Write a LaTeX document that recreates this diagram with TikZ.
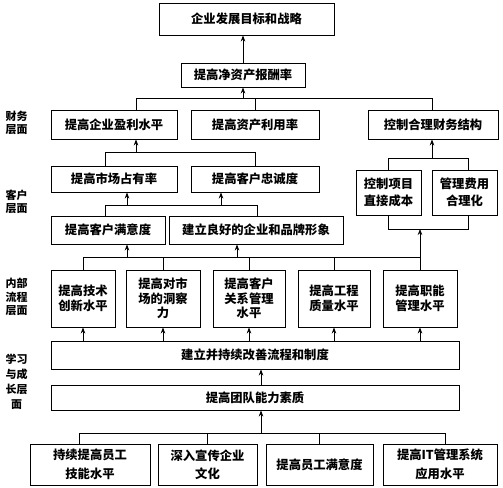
\documentclass[tikz,border=0pt]{standalone}
\usepackage{fontspec}
\newfontfamily\cjk{Noto Sans CJK SC}
\usetikzlibrary{positioning, arrows.meta}

\begin{document}
\begin{tikzpicture}[
      x=1pt, y=-1pt,
      box/.style={draw, line width=0.9pt, align=center, inner sep=0pt, font=\cjk\bfseries\fontsize{12.3}{14.5}\selectfont},
      dims/.style 2 args={minimum width=#1pt, minimum height=#2pt},
      level/.style={align=center, inner sep=0pt, font=\cjk\bfseries\fontsize{11}{13.5}\selectfont},
      link/.style={line width=0.7pt},
      flow/.style={-{Stealth[length=6pt, width=4.5pt]}, line width=0.7pt}
    ]
    \useasboundingbox (0,0) rectangle (503,487);

    % goal and finance
    \node[box, dims={175}{32}] (goal)      at (246.5,19)  {企业发展目标和战略};
    \node[box, dims={124}{24}] (roe)       at (243,75)    {提高净资产报酬率};
    \node[box, dims={126}{29}] (profit)    at (114,124.5) {提高企业盈利水平};
    \node[box, dims={128}{29}] (assets)    at (255,124.5) {提高资产利用率};
    \node[box, dims={130}{29}] (structure) at (433,124.5) {控制合理财务结构};

    % customer
    \node[box, dims={126}{26}] (share)      at (114,179)   {提高市场占有率};
    \node[box, dims={128}{26}] (loyalty)    at (255,179)   {提高客户忠诚度};
    \node[box, dims={65}{45}, font=\cjk\bfseries\fontsize{12.3}{16.5}\selectfont] (directcost) at (388.5,192.5) {控制项目\\直接成本};
    \node[box, dims={65}{45}, font=\cjk\bfseries\fontsize{12.3}{16.5}\selectfont] (admincost)  at (464.5,192.5) {管理费用\\合理化};
    \node[box, dims={114}{28}] (satisfaction) at (108,230) {提高客户满意度};
    \node[box, dims={174}{28}] (brand)        at (256,230) {建立良好的企业和品牌形象};

    % internal process
    \node[box, dims={64}{57}] (innovation) at (83,298.5)  {提高技术\\创新水平};
    \node[box, dims={74}{57}] (insight)    at (163,298.5) {提高对市\\场的洞察\\力};
    \node[box, dims={72}{57}] (crm)        at (249,298.5) {提高客户\\关系管理\\水平};
    \node[box, dims={72}{57}] (quality)    at (334,298.5) {提高工程\\质量水平};
    \node[box, dims={74}{57}] (functions)  at (420,298.5) {提高职能\\管理水平};

    % learning and growth
    \node[box, dims={408}{28}] (process) at (255,355)   {建立并持续改善流程和制度};
    \node[box, dims={408}{25}] (team)    at (255,397.5) {提高团队能力素质};
    \node[box, dims={120}{41}, font=\cjk\bfseries\fontsize{12.3}{19}\selectfont] (skills)   at (90,464.5)    {持续提高员工\\技能水平};
    \node[box, dims={99}{41},  font=\cjk\bfseries\fontsize{12.3}{18}\selectfont] (culture)  at (207.5,464.5) {深入宣传企业\\文化};
    \node[box, dims={107}{41}] (staffsat) at (319.5,464.5) {提高员工满意度};
    \node[box, dims={114}{41}, font=\cjk\bfseries\fontsize{12.3}{19}\selectfont] (itsys)    at (440,464.5)   {提高IT管理系统\\应用水平};

    % level labels
    \node[level] (finance)  at (16.5,123) {财务\\层面};
    \node[level] (customer) at (16.5,202) {客户\\层面};
    \node[level] (internal) at (16.5,297) {内部\\流程\\层面};
    \node[level, font=\cjk\bfseries\fontsize{11}{15}\selectfont] (learning) at (16.5,382) {学习\\与成\\长层\\面};

    % bus points
    \coordinate (j1) at (136,98);  \coordinate (j2) at (432,98);
    \coordinate (k1) at (105,152); \coordinate (k2) at (255,152);
    \coordinate (m1) at (388,158); \coordinate (m2) at (468,158);
    \coordinate (n1) at (105,205); \coordinate (n2) at (257,205);
    \coordinate (n3) at (127,205); \coordinate (n4) at (221,205);
    \coordinate (p1) at (388,229); \coordinate (p2) at (468,229);
    \coordinate (q1) at (83,257);
    \coordinate (q6) at (127,257); \coordinate (q7) at (237,257);
    \coordinate (s1) at (79,433);  \coordinate (s2) at (445,433);
    \coordinate (s3) at (261,433);

    % finance links
    \draw[flow] (roe.north) -- (roe.north |- goal.south);
    \draw[link] (profit.north -| j1) -- (j1) -- (j2) -- (structure.north -| j2);
    \draw[link] (assets.north) -- (assets.north |- j1);
    \draw[flow] (roe.south |- j1) -- (roe.south);

    % customer links
    \draw[link] (share.north -| k1) -- (k1) -- (k2) -- (loyalty.north -| k2);
    \draw[flow] (k1 -| j1) -- (profit.south -| j1);
    \draw[link] (directcost.north -| m1) -- (m1) -- (m2) -- (admincost.north -| m2);
    \draw[flow] (m1 -| j2) -- (structure.south -| j2);
    \draw[link] (satisfaction.north -| n1) -- (n1) -- (n2) -- (brand.north -| n2);
    \draw[flow] (n3) -- (share.south -| n3);
    \draw[flow] (n4) -- (loyalty.south -| n4);
    \draw[link] (directcost.south -| p1) -- (p1) -- (p2) -- (admincost.south -| p2);

    % internal links
    \draw[link] (innovation.north |- q1) -- (functions.north |- q1);
    \foreach \n in {innovation, insight, crm, quality, functions}
      \draw[link] (\n.north) -- (\n.north |- q1);
    \draw[flow] (functions.north |- q1) -- (functions.north |- p1);
    \draw[flow] (q6) -- (satisfaction.south -| q6);
    \draw[flow] (q7) -- (brand.south -| q7);
    \foreach \n in {innovation, insight, crm, quality, functions}
      \draw[flow] (\n.south |- process.north) -- (\n.south);

    % learning links
    \draw[flow] (team.north -| s3) -- (process.south -| s3);
    \draw[link] (skills.north -| s1) -- (s1) -- (s2) -- (itsys.north -| s2);
    \draw[link] (culture.north) -- (culture.north |- s1);
    \draw[link] (staffsat.north) -- (staffsat.north |- s1);
    \draw[flow] (s3) -- (team.south -| s3);
  \end{tikzpicture}
\end{document}
